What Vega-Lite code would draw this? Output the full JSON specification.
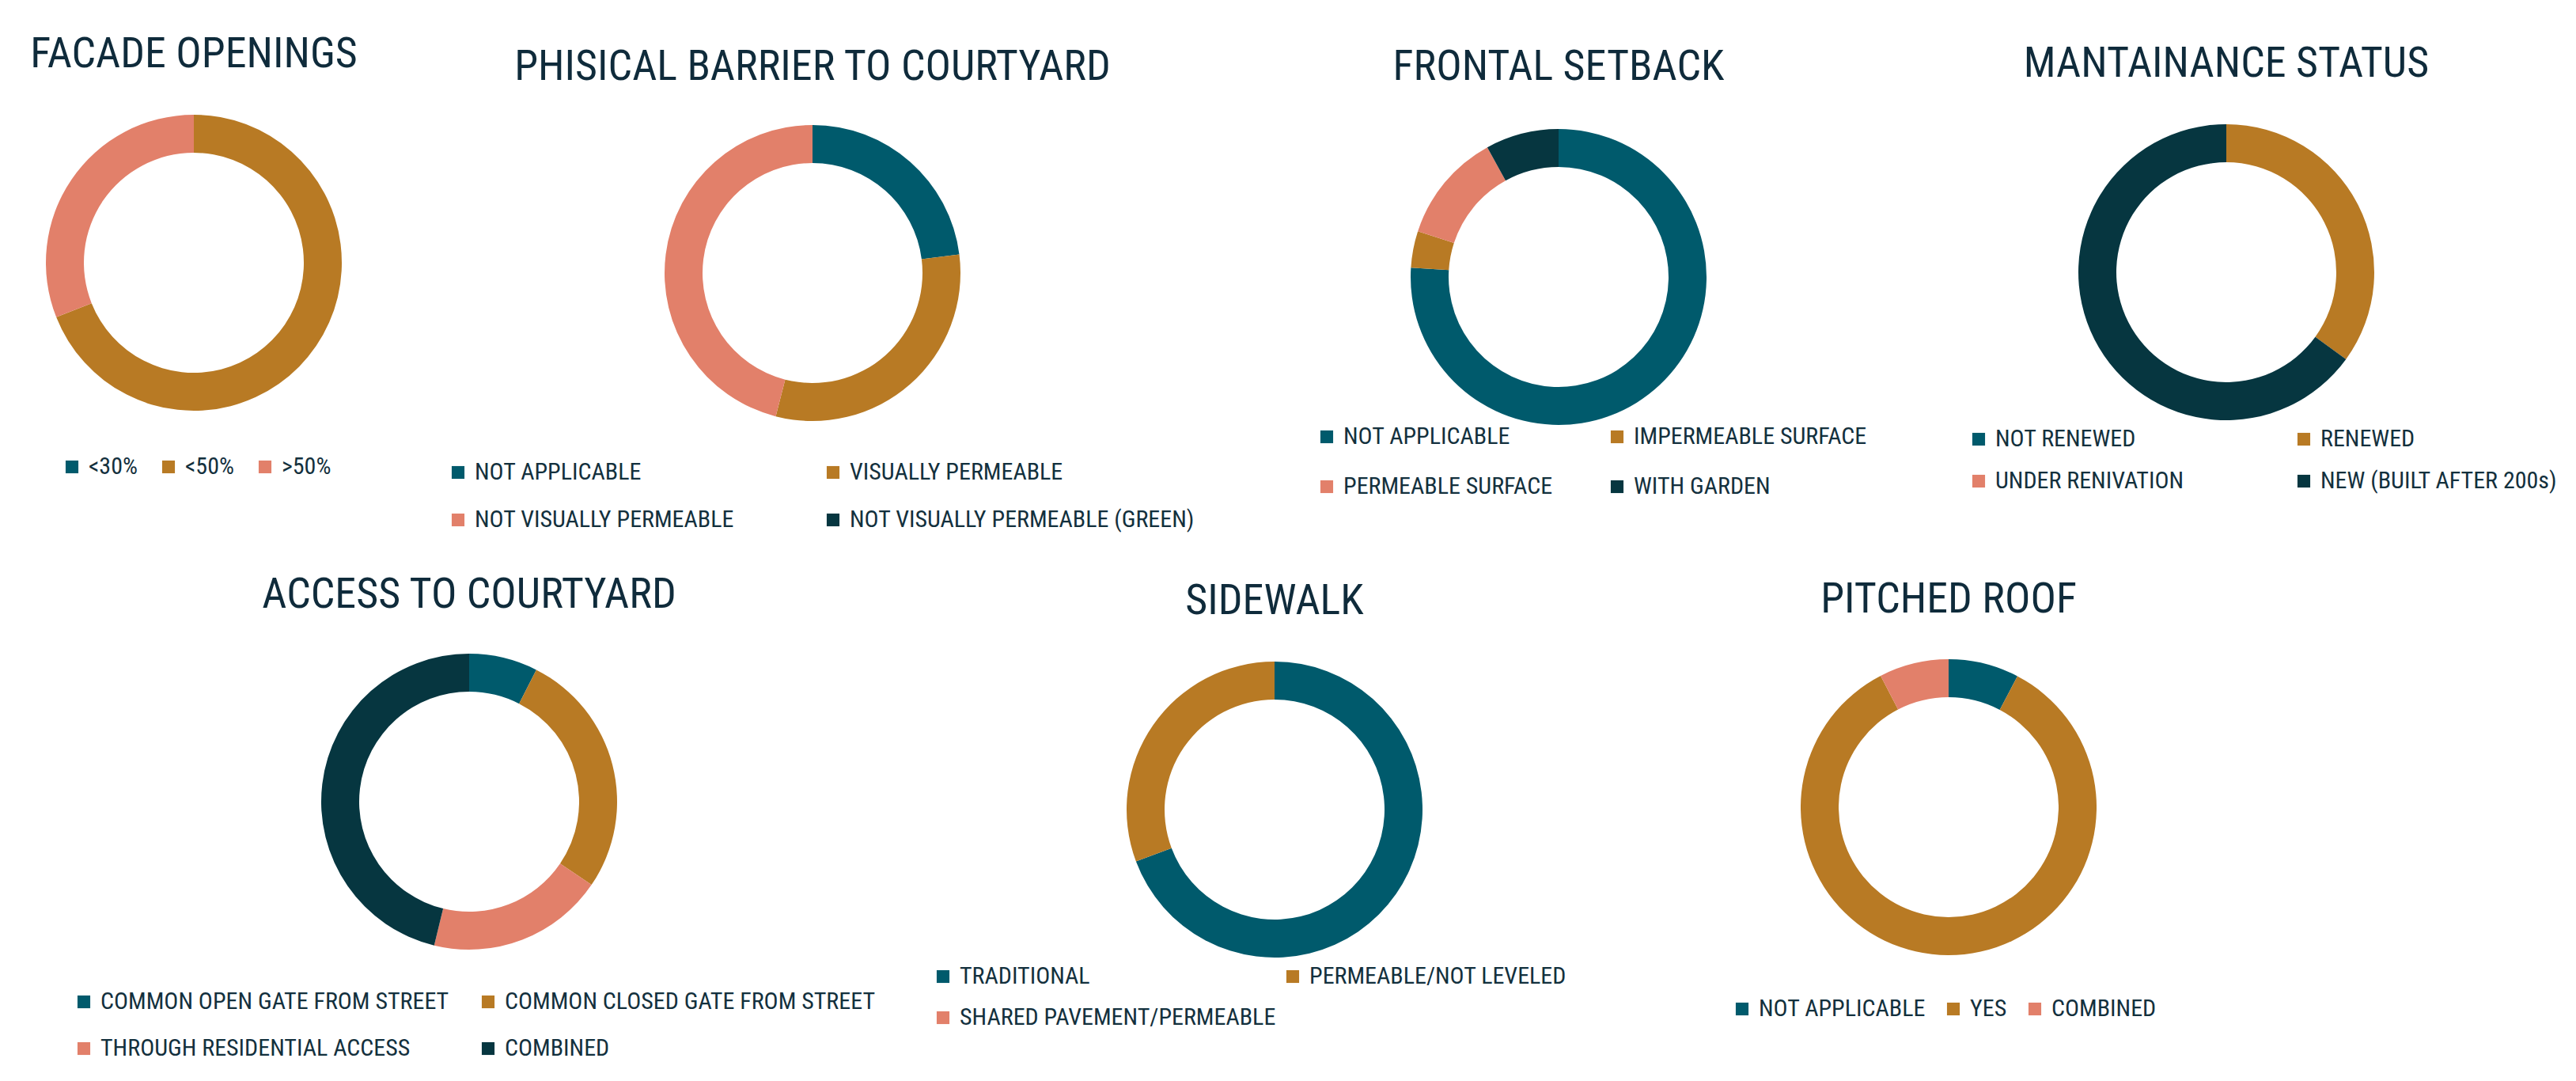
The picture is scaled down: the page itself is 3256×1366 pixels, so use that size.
{
  "$schema": "https://vega.github.io/schema/vega-lite/v6.json",
  "background": "white",
  "padding": {"left": 25, "top": 42, "right": 0, "bottom": 0},
  "spacing": 53,
  "data": {"values": [
    {"c": "facade", "cat": "<30%", "v": 0, "k": 1},
    {"c": "facade", "cat": "<50%", "v": 69, "k": 2},
    {"c": "facade", "cat": ">50%", "v": 31, "k": 3},
    {"c": "barrier", "cat": "NOT APPLICABLE", "v": 23, "k": 1},
    {"c": "barrier", "cat": "VISUALLY PERMEABLE", "v": 31, "k": 2},
    {"c": "barrier", "cat": "NOT VISUALLY PERMEABLE", "v": 46, "k": 3},
    {"c": "barrier", "cat": "NOT VISUALLY PERMEABLE (GREEN)", "v": 0, "k": 4},
    {"c": "setback", "cat": "NOT APPLICABLE", "v": 76, "k": 1},
    {"c": "setback", "cat": "IMPERMEABLE SURFACE", "v": 4, "k": 2},
    {"c": "setback", "cat": "PERMEABLE SURFACE", "v": 12, "k": 3},
    {"c": "setback", "cat": "WITH GARDEN", "v": 8, "k": 4},
    {"c": "maint", "cat": "NOT RENEWED", "v": 0, "k": 1},
    {"c": "maint", "cat": "RENEWED", "v": 35, "k": 2},
    {"c": "maint", "cat": "UNDER RENIVATION", "v": 0, "k": 3},
    {"c": "maint", "cat": "NEW (BUILT AFTER 200s)", "v": 65, "k": 4},
    {"c": "access", "cat": "COMMON OPEN GATE FROM STREET", "v": 7.5, "k": 1},
    {"c": "access", "cat": "COMMON CLOSED GATE FROM STREET", "v": 27, "k": 2},
    {"c": "access", "cat": "THROUGH RESIDENTIAL ACCESS", "v": 19.3, "k": 3},
    {"c": "access", "cat": "COMBINED", "v": 46.2, "k": 4},
    {"c": "sidewalk", "cat": "TRADITIONAL", "v": 69.3, "k": 1},
    {"c": "sidewalk", "cat": "PERMEABLE/NOT LEVELED", "v": 30.7, "k": 2},
    {"c": "sidewalk", "cat": "SHARED PAVEMENT/PERMEABLE", "v": 0, "k": 3},
    {"c": "roof", "cat": "NOT APPLICABLE", "v": 7.7, "k": 1},
    {"c": "roof", "cat": "YES", "v": 84.7, "k": 2},
    {"c": "roof", "cat": "COMBINED", "v": 7.6, "k": 3}
  ]},
  "vconcat": [
    {
      "bounds": "flush",
      "spacing": 300,
      "hconcat": [
        {
          "width": 440, "height": 372,
          "title": {"text": "FACADE OPENINGS", "offset": 49},
          "transform": [{"filter": "datum.c === 'facade'"}],
          "mark": {"type": "arc", "outerRadius": 187, "innerRadius": 139},
          "encoding": {
            "theta": {"field": "v", "type": "quantitative", "stack": true},
            "order": {"field": "k", "type": "quantitative"},
            "color": {"field": "cat", "type": "nominal",
              "scale": {"domain": ["<30%", "<50%", ">50%"], "range": ["#005a6c", "#b87a24", "#e2806a"]},
              "legend": {"title": null, "columns": 3, "columnPadding": 24, "legendX": 51, "legendY": 429}}
          }
        },
        {
          "width": 524, "height": 398,
          "title": {"text": "PHISICAL BARRIER TO COURTYARD", "offset": 34},
          "transform": [{"filter": "datum.c === 'barrier'"}],
          "mark": {"type": "arc", "outerRadius": 187, "innerRadius": 139},
          "encoding": {
            "theta": {"field": "v", "type": "quantitative", "stack": true},
            "order": {"field": "k", "type": "quantitative"},
            "color": {"field": "cat", "type": "nominal",
              "scale": {"domain": ["NOT APPLICABLE", "VISUALLY PERMEABLE", "NOT VISUALLY PERMEABLE", "NOT VISUALLY PERMEABLE (GREEN)"], "range": ["#005a6c", "#b87a24", "#e2806a", "#063640"]},
              "legend": {"title": null, "columns": 2, "columnPadding": 110, "rowPadding": 30, "legendX": -201, "legendY": 436}}
          }
        },
        {
          "width": 762, "height": 408,
          "title": {"text": "FRONTAL SETBACK", "offset": 34},
          "transform": [{"filter": "datum.c === 'setback'"}],
          "mark": {"type": "arc", "outerRadius": 187, "innerRadius": 139},
          "encoding": {
            "theta": {"field": "v", "type": "quantitative", "stack": true},
            "order": {"field": "k", "type": "quantitative"},
            "color": {"field": "cat", "type": "nominal",
              "scale": {"domain": ["NOT APPLICABLE", "IMPERMEABLE SURFACE", "PERMEABLE SURFACE", "WITH GARDEN"], "range": ["#005a6c", "#b87a24", "#e2806a", "#063640"]},
              "legend": {"title": null, "columns": 2, "columnPadding": 66, "rowPadding": 33, "legendX": 73, "legendY": 391}}
          }
        },
        {
          "width": 326, "height": 396,
          "title": {"text": "MANTAINANCE STATUS", "offset": 38},
          "transform": [{"filter": "datum.c === 'maint'"}],
          "mark": {"type": "arc", "outerRadius": 187, "innerRadius": 139},
          "encoding": {
            "theta": {"field": "v", "type": "quantitative", "stack": true},
            "order": {"field": "k", "type": "quantitative"},
            "color": {"field": "cat", "type": "nominal",
              "scale": {"domain": ["NOT RENEWED", "RENEWED", "UNDER RENIVATION", "NEW (BUILT AFTER 200s)"], "range": ["#005a6c", "#b87a24", "#e2806a", "#063640"]},
              "legend": {"title": null, "columns": 2, "columnPadding": 136, "rowPadding": 23, "legendX": -165, "legendY": 394}}
          }
        }
      ],
      "resolve": {"scale": {"color": "independent", "theta": "independent"}, "legend": {"color": "independent"}}
    },
    {
      "bounds": "flush",
      "spacing": 300,
      "hconcat": [
        {
          "width": 1136, "height": 372,
          "title": {"text": "ACCESS TO COURTYARD", "offset": 47},
          "transform": [{"filter": "datum.c === 'access'"}],
          "mark": {"type": "arc", "outerRadius": 187, "innerRadius": 139},
          "encoding": {
            "theta": {"field": "v", "type": "quantitative", "stack": true},
            "order": {"field": "k", "type": "quantitative"},
            "color": {"field": "cat", "type": "nominal",
              "scale": {"domain": ["COMMON OPEN GATE FROM STREET", "COMMON CLOSED GATE FROM STREET", "THROUGH RESIDENTIAL ACCESS", "COMBINED"], "range": ["#005a6c", "#b87a24", "#e2806a", "#063640"]},
              "legend": {"title": null, "columns": 2, "columnPadding": 34, "rowPadding": 29, "legendX": 66, "legendY": 424}}
          }
        },
        {
          "width": 300, "height": 392,
          "title": {"text": "SIDEWALK", "offset": 40},
          "transform": [{"filter": "datum.c === 'sidewalk'"}],
          "mark": {"type": "arc", "outerRadius": 187, "innerRadius": 139},
          "encoding": {
            "theta": {"field": "v", "type": "quantitative", "stack": true},
            "order": {"field": "k", "type": "quantitative"},
            "color": {"field": "cat", "type": "nominal",
              "scale": {"domain": ["TRADITIONAL", "PERMEABLE/NOT LEVELED", "SHARED PAVEMENT/PERMEABLE"], "range": ["#005a6c", "#b87a24", "#e2806a"]},
              "legend": {"title": null, "columns": 2, "columnPadding": 6, "rowPadding": 22, "legendX": -284, "legendY": 392}}
          }
        },
        {
          "width": 804, "height": 386,
          "title": {"text": "PITCHED ROOF", "offset": 42},
          "transform": [{"filter": "datum.c === 'roof'"}],
          "mark": {"type": "arc", "outerRadius": 187, "innerRadius": 139},
          "encoding": {
            "theta": {"field": "v", "type": "quantitative", "stack": true},
            "order": {"field": "k", "type": "quantitative"},
            "color": {"field": "cat", "type": "nominal",
              "scale": {"domain": ["NOT APPLICABLE", "YES", "COMBINED"], "range": ["#005a6c", "#b87a24", "#e2806a"]},
              "legend": {"title": null, "columns": 3, "columnPadding": 20, "legendX": 126, "legendY": 433}}
          }
        }
      ],
      "resolve": {"scale": {"color": "independent", "theta": "independent"}, "legend": {"color": "independent"}}
    }
  ],
  "resolve": {"scale": {"color": "independent", "theta": "independent"}, "legend": {"color": "independent"}},
  "config": {
    "view": {"stroke": null},
    "title": {"font": "Roboto Condensed, Roboto, sans-serif", "fontSize": 54, "fontWeight": "normal", "color": "#0f2b3b", "anchor": "middle", "frame": "group"},
    "legend": {
      "orient": "none", "direction": "horizontal",
      "symbolType": "square", "symbolSize": 260, "symbolStrokeWidth": 0,
      "labelFont": "Roboto Condensed, Roboto, sans-serif",
      "labelFontSize": 30, "labelColor": "#13303d", "labelLimit": 0, "labelOffset": 6,
      "padding": 0
    }
  }
}
